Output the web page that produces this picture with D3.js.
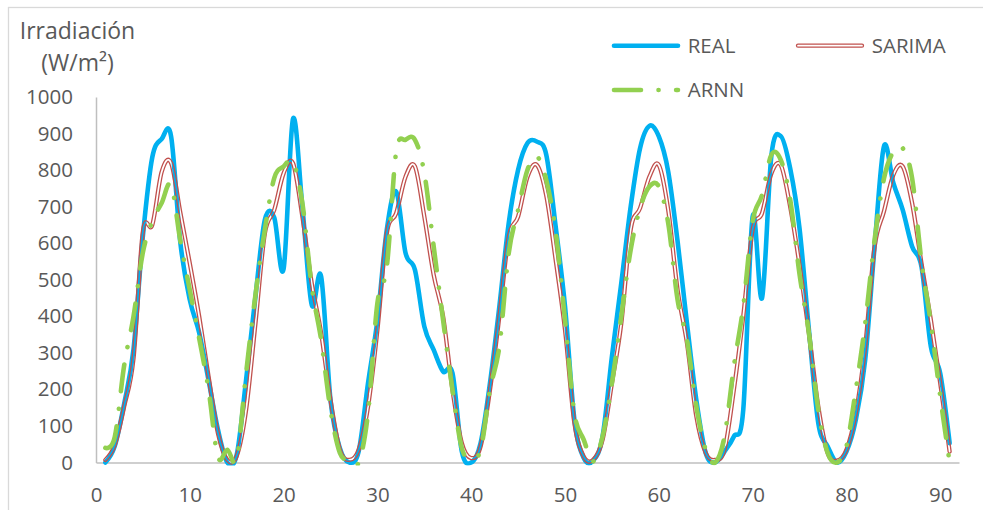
<!DOCTYPE html>
<html>
<head>
<meta charset="utf-8">
<script src="https://cdn.jsdelivr.net/npm/d3@7"></script>
<style>
  html, body { margin: 0; padding: 0; background: #fff; }
  svg { display: block; font-family: "Open Sans", sans-serif; }
</style>
</head>
<body>
<div id="chart"></div>
<script>
// hour index (x) and the three series
const hours = [
  1, 2, 3, 4, 5, 6, 7, 8, 9, 10, 11, 12, 13,
  14, 15, 16, 17, 18, 19, 20, 21, 22, 23, 24, 25, 26,
  27, 28, 29, 30, 31, 32, 33, 34, 35, 36, 37, 38, 39,
  40, 41, 42, 43, 44, 45, 46, 47, 48, 49, 50, 51, 52,
  53, 54, 55, 56, 57, 58, 59, 60, 61, 62, 63, 64, 65,
  66, 67, 68, 69, 70, 71, 72, 73, 74, 75, 76, 77, 78,
  79, 80, 81, 82, 83, 84, 85, 86, 87, 88, 89, 90, 91
];

const real = [
  0, 45, 160, 310, 620, 835, 885, 893, 600, 445, 355, 225, 90,
  0, 21, 226, 454, 664, 670, 530, 940, 700, 431, 509, 171, 39,
  0, 30, 217, 390, 637, 741, 573, 527, 372, 308, 249, 245, 30,
  0, 53, 217, 427, 655, 801, 874, 878, 842, 646, 427, 117, 12,
  5, 71, 290, 491, 700, 860, 921, 892, 796, 605, 381, 171, 26,
  0, 30, 71, 144, 673, 450, 840, 893, 805, 640, 363, 108, 44,
  0, 30, 117, 281, 591, 865, 765, 691, 591, 536, 317, 244, 53
];

const sarima = [
  7, 48, 153, 285, 632, 650, 795, 820, 682, 545, 400, 235, 80,
  7, 18, 144, 381, 627, 691, 791, 819, 673, 490, 354, 171, 35,
  7, 35, 153, 363, 627, 682, 782, 810, 673, 513, 400, 199, 53,
  12, 44, 199, 400, 618, 673, 782, 814, 730, 555, 363, 108, 16,
  7, 62, 217, 381, 637, 696, 782, 814, 691, 472, 327, 126, 26,
  7, 35, 199, 400, 637, 682, 791, 814, 700, 540, 354, 153, 26,
  5, 35, 135, 317, 590, 687, 787, 810, 710, 545, 390, 217, 30
];

const arnn = [
  40, 70, 265, 400, 575, 660, 710, 760, 605, 472, 340, 199, 15,
  35, 10, 244, 459, 637, 778, 810, 823, 710, 481, 336, 144, 26,
  7, 0, 135, 436, 536, 850, 883, 883, 792, 591, 390, 199, 39,
  12, 35, 199, 317, 573, 691, 801, 837, 773, 632, 390, 135, 62,
  3, 71, 217, 400, 582, 696, 755, 755, 655, 445, 336, 153, 35,
  0, 71, 263, 427, 660, 732, 842, 828, 720, 515, 354, 144, 26,
  0, 44, 199, 381, 609, 777, 850, 860, 778, 550, 381, 181, 0
];

const yTicks = [0, 100, 200, 300, 400, 500, 600, 700, 800, 900, 1000];
const xTicks = [0, 10, 20, 30, 40, 50, 60, 70, 80, 90];
const seriesNames = ["REAL", "SARIMA", "ARNN"];

// colours / sizes
const blue = "#00B0F0", red = "#C0504D", green = "#92D050", textCol = "#595959", axisCol = "#BFBFBF";
const width = 983, height = 510;

const svg = d3.select("#chart").append("svg")
  .attr("width", width)
  .attr("height", height);

// chart frame (only left/top edges fall inside the picture)
svg.append("rect")
  .attr("x", 8.5).attr("y", 7.5)
  .attr("width", 1000).attr("height", 1000)
  .attr("fill", "none")
  .attr("stroke", "#D9D9D9")
  .attr("stroke-width", 1.3);

const x = d3.scaleLinear().domain([0, 92]).range([96, 959]);
const y = d3.scaleLinear().domain([0, 1000]).range([462.5, 97]);

// y axis
const yAxis = svg.append("g")
  .attr("transform", `translate(${x(0)},0)`)
  .call(d3.axisLeft(y).tickValues(yTicks).tickFormat(d3.format("d")).tickSize(0).tickPadding(23));
yAxis.select(".domain").attr("stroke", axisCol).attr("stroke-width", 1.5);
yAxis.selectAll("text")
  .attr("fill", textCol)
  .style("font-size", "20.5px")
  .style("font-family", "'Open Sans', sans-serif");

// x axis
const xAxis = svg.append("g")
  .attr("transform", `translate(0,${y(0)})`)
  .call(d3.axisBottom(x).tickValues(xTicks).tickFormat(d3.format("d")).tickSize(0).tickPadding(24.5));
xAxis.select(".domain").attr("stroke", axisCol).attr("stroke-width", 1.5);
xAxis.selectAll("text")
  .attr("fill", textCol)
  .style("font-size", "20.5px")
  .style("font-family", "'Open Sans', sans-serif");

// axis title
const title = svg.append("text")
  .attr("text-anchor", "middle")
  .attr("fill", textCol)
  .style("font-size", "23px");
title.append("tspan").attr("x", 77.5).attr("y", 39.3).text("Irradiación");
title.append("tspan").attr("x", 77.5).attr("y", 71).text("(W/m²)");

// plot clip
const defs = svg.append("defs");
defs.append("clipPath").attr("id", "plotClip")
  .append("rect")
  .attr("x", x(0)).attr("y", 85)
  .attr("width", x(92) - x(0)).attr("height", y(0) - 85 + 3);

const line = d3.line()
  .x(d => x(d[0]))
  .y(d => y(d[1]))
  .curve(d3.curveCardinal.tension(0));

const realPts = hours.map((h, i) => [h, real[i]]);
const sarimaPts = hours.map((h, i) => [h, sarima[i]]);
const arnnPts = hours.map((h, i) => [h, arnn[i]]);

const plot = svg.append("g").attr("clip-path", "url(#plotClip)");

// double (compound) line: red outer stroke with transparent centre via mask
let maskId = 0;
function doubleLine(parent, d) {
  const id = "dbl" + (maskId++);
  const m = defs.append("mask").attr("id", id)
    .attr("maskUnits", "userSpaceOnUse")
    .attr("x", 0).attr("y", 0).attr("width", width).attr("height", height);
  m.append("rect").attr("width", width).attr("height", height).attr("fill", "#fff");
  m.append("path").attr("d", d)
    .attr("fill", "none").attr("stroke", "#000")
    .attr("stroke-width", 1.7)
    .attr("stroke-linecap", "round").attr("stroke-linejoin", "round");
  parent.append("path").attr("d", d)
    .attr("fill", "none").attr("stroke", red)
    .attr("stroke-width", 4.3)
    .attr("stroke-linecap", "round").attr("stroke-linejoin", "round")
    .attr("mask", `url(#${id})`);
}

const arnnDash = "27,17.5,0.1,17.5";

plot.append("path")
  .attr("d", line(realPts))
  .attr("fill", "none")
  .attr("stroke", blue)
  .attr("stroke-width", 4.6)
  .attr("stroke-linecap", "round")
  .attr("stroke-linejoin", "round");

doubleLine(plot, line(sarimaPts));

plot.append("path")
  .attr("d", line(arnnPts))
  .attr("fill", "none")
  .attr("stroke", green)
  .attr("stroke-width", 4.6)
  .attr("stroke-dasharray", arnnDash)
  .attr("stroke-linecap", "round")
  .attr("stroke-linejoin", "round");

// legend
const legend = svg.append("g");
const legendItems = [
  { name: seriesNames[0], lx: 614, ly: 45.7 },
  { name: seriesNames[1], lx: 798, ly: 45.7 },
  { name: seriesNames[2], lx: 614, ly: 90 }
];
legendItems.forEach((it, i) => {
  const d = `M${it.lx},${it.ly}H${it.lx + 64}`;
  if (i === 1) {
    doubleLine(legend, d);
  } else {
    legend.append("path")
      .attr("d", d)
      .attr("stroke", i === 0 ? blue : green)
      .attr("stroke-width", 4.6)
      .attr("stroke-linecap", "round")
      .attr("stroke-dasharray", i === 2 ? arnnDash : null);
  }
  legend.append("text")
    .attr("x", it.lx + 73.7)
    .attr("y", it.ly + 7.3)
    .attr("fill", textCol)
    .style("font-size", "20.5px")
    .text(it.name);
});
</script>
</body>
</html>
